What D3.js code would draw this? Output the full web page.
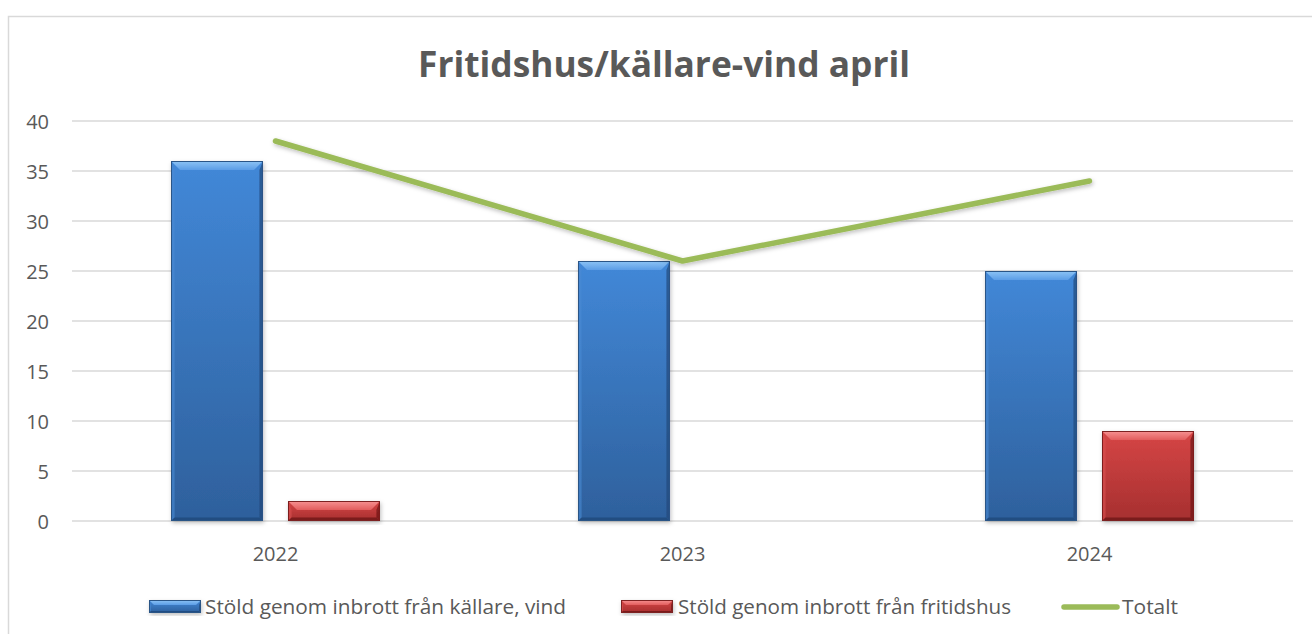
<!DOCTYPE html>
<html><head><meta charset="utf-8">
<script src="https://cdn.jsdelivr.net/npm/d3@7"></script>
<style>
html,body{margin:0;padding:0;background:#fff;}
svg{display:block;}
text{font-family:"Open Sans","Liberation Sans",sans-serif;fill:#595959;}
</style></head>
<body>
<svg id="chart" width="1312" height="634"></svg>
<script>
const title = "Fritidshus/källare-vind april";
const categories = ["2022", "2023", "2024"];
const seriesNames = ["Stöld genom inbrott från källare, vind", "Stöld genom inbrott från fritidshus", "Totalt"];
const kallareVind = [36, 26, 25];
const fritidshus = [2, 0, 9];
const totalt = [38, 26, 34];
const yTicks = [0, 5, 10, 15, 20, 25, 30, 35, 40];

const svg = d3.select("#chart");
const W = 1312, H = 634;
const plot = {left: 72, right: 1293, top: 121, bottom: 521};

svg.append("rect").attr("width", W).attr("height", H).attr("fill", "#fff");
svg.append("rect").attr("x", 8.5).attr("y", 16.5).attr("width", W + 20).attr("height", H + 20)
  .attr("fill", "#fff").attr("stroke", "#d9d9d9").attr("stroke-width", 1.5);

const x = d3.scaleBand().domain(categories).range([plot.left, plot.right]).padding(0);
const y = d3.scaleLinear().domain([0, 40]).range([plot.bottom, plot.top]);

const defs = svg.append("defs");
function grad(id, stops) {
  const g = defs.append("linearGradient").attr("id", id).attr("x1", 0).attr("y1", 0).attr("x2", 0).attr("y2", 1);
  stops.forEach(s => g.append("stop").attr("offset", s[0]).attr("stop-color", s[1]));
}
grad("gBlue", [[0, "#4288d8"], [1, "#2e609c"]]);
grad("gRed", [[0, "#d64646"], [1, "#a62f2f"]]);
grad("gBlueTop", [[0, "#8cc4f5"], [1, "#5c9de6"]]);
grad("gRedTop", [[0, "#f79292"], [1, "#e25d5d"]]);
const f = defs.append("filter").attr("id", "shadow").attr("x", "-20%").attr("y", "-20%").attr("width", "140%").attr("height", "140%");
f.append("feDropShadow").attr("dx", 1).attr("dy", 2).attr("stdDeviation", 2).attr("flood-color", "#000").attr("flood-opacity", 0.25);

svg.append("g").selectAll("line").data(yTicks).join("line")
  .attr("x1", plot.left).attr("x2", plot.right)
  .attr("y1", d => y(d)).attr("y2", d => y(d))
  .attr("stroke", "#d9d9d9").attr("stroke-width", 1.5);

const yAxis = d3.axisLeft(y).tickValues(yTicks).tickSize(0).tickPadding(0);
const ya = svg.append("g").attr("transform", `translate(49,0)`).call(yAxis);
ya.select(".domain").remove();
ya.selectAll("text").attr("font-size", 20).attr("fill", "#595959")
  .attr("font-family", "'Open Sans','Liberation Sans',sans-serif").attr("dy", "0.36em");

const xAxis = d3.axisBottom(x).tickSize(0).tickPadding(0);
const xa = svg.append("g").attr("transform", `translate(0,${plot.bottom})`).call(xAxis);
xa.select(".domain").remove();
xa.selectAll("text").attr("font-size", 20).attr("fill", "#595959")
  .attr("font-family", "'Open Sans','Liberation Sans',sans-serif").attr("dy", null).attr("y", 40);

const barFrac = 0.226, gapFrac = 0.0614;
function drawBar(g, x0, w, yTop, yBot, colors, bevel) {
  const h = yBot - yTop;
  if (h <= 0) return;
  const b = Math.min(bevel, h / 2, w / 2);
  const grp = g.append("g").attr("filter", "url(#shadow)");
  grp.append("rect").attr("x", x0).attr("y", yTop).attr("width", w).attr("height", h)
    .attr("fill", `url(#${colors.grad})`);
  grp.append("polygon").attr("points", [[x0, yTop], [x0 + w, yTop], [x0 + w - b, yTop + b], [x0 + b, yTop + b]].join(" "))
    .attr("fill", `url(#${colors.topGrad})`);
  grp.append("polygon").attr("points", [[x0, yTop], [x0 + b * 0.4, yTop + b], [x0 + b * 0.4, yBot - b * 0.4], [x0, yBot]].join(" "))
    .attr("fill", colors.side).attr("opacity", 0.6);
  grp.append("polygon").attr("points", [[x0 + w, yTop], [x0 + w - b * 0.4, yTop + b], [x0 + w - b * 0.4, yBot - b * 0.4], [x0 + w, yBot]].join(" "))
    .attr("fill", colors.dark).attr("opacity", 0.7);
  grp.append("polygon").attr("points", [[x0, yBot], [x0 + b * 0.4, yBot - b * 0.4], [x0 + w - b * 0.4, yBot - b * 0.4], [x0 + w, yBot]].join(" "))
    .attr("fill", colors.dark).attr("opacity", 0.8);
  grp.append("rect").attr("x", x0 + 0.5).attr("y", yTop + 0.5).attr("width", w - 1).attr("height", h - 1)
    .attr("fill", "none").attr("stroke", colors.border).attr("stroke-width", 1);
}
const blueC = {grad: "gBlue", topGrad: "gBlueTop", side: "#4a8ad4", dark: "#22487a", border: "#2b5486"};
const redC = {grad: "gRed", topGrad: "gRedTop", side: "#d85050", dark: "#6e1616", border: "#7d2020"};

const barsG = svg.append("g");
categories.forEach((c, i) => {
  const bw = x.bandwidth();
  const cx = x(c) + bw / 2;
  const w = bw * barFrac, gap = bw * gapFrac;
  drawBar(barsG, cx - gap / 2 - w, w, y(kallareVind[i]), y(0), blueC, 9);
  drawBar(barsG, cx + gap / 2, w, y(fritidshus[i]), y(0), redC, 9);
});

const line = d3.line().x((d, i) => x(categories[i]) + x.bandwidth() / 2).y(d => y(d));
svg.append("path").datum(totalt).attr("d", line)
  .attr("fill", "none").attr("stroke", "#9bbb59").attr("stroke-width", 5.5)
  .attr("stroke-linecap", "round").attr("stroke-linejoin", "round").attr("filter", "url(#shadow)");

svg.append("text").attr("x", 664).attr("y", 77).attr("text-anchor", "middle")
  .attr("font-size", 35).attr("font-weight", "bold").attr("fill", "#595959")
  .attr("textLength", 492).attr("lengthAdjust", "spacingAndGlyphs").text(title);

const leg = svg.append("g");
const legItems = [
  {sx: 149, tx: 205, tw: 361, type: "bar", c: blueC},
  {sx: 621, tx: 678, tw: 333, type: "bar", c: redC},
  {sx: 1062, tx: 1122, tw: 56, type: "line"}
];
legItems.forEach((it, i) => {
  if (it.type === "bar") {
    drawBar(leg, it.sx, 52, 600, 613, it.c, 5);
  } else {
    leg.append("line").attr("x1", it.sx + 2).attr("x2", it.sx + 55).attr("y1", 607).attr("y2", 607)
      .attr("stroke", "#9bbb59").attr("stroke-width", 5.5).attr("stroke-linecap", "round");
  }
  leg.append("text").attr("x", it.tx).attr("y", 614).attr("font-size", 20).attr("fill", "#595959")
    .attr("textLength", it.tw).attr("lengthAdjust", "spacingAndGlyphs").text(seriesNames[i]);
});
</script>
</body></html>
